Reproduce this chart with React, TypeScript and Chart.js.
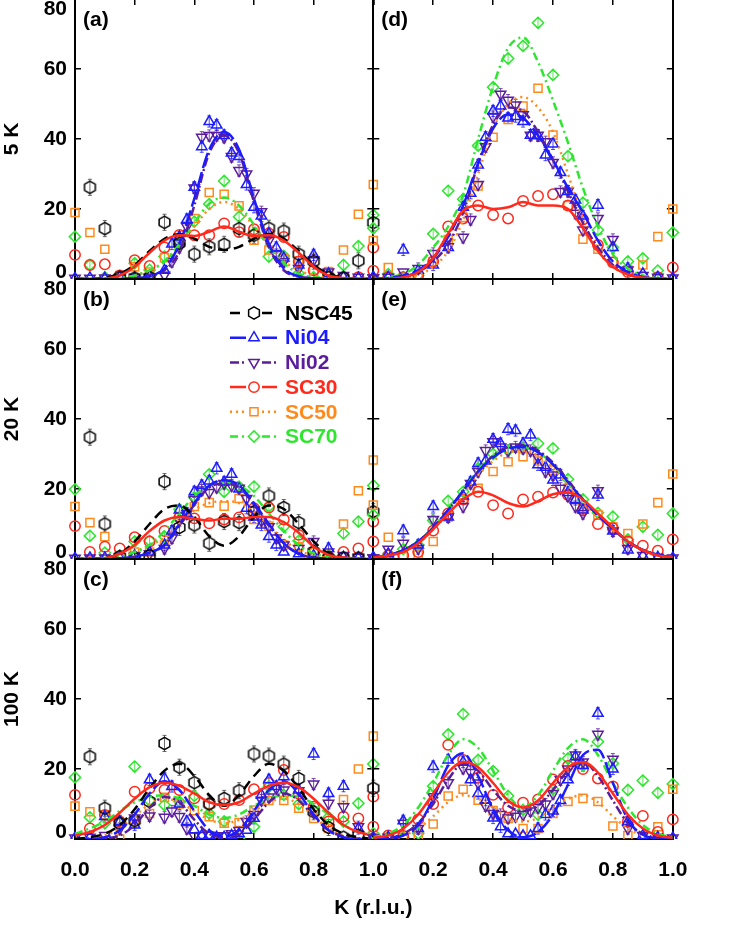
import React, { useEffect, useRef } from 'react';
import { Chart, registerables } from 'chart.js';

Chart.register(...registerables);

// ---------------- data ----------------
const K_COARSE = [0, 0.05, 0.1, 0.15, 0.2, 0.25, 0.3, 0.35, 0.4, 0.45, 0.5, 0.55, 0.6, 0.65, 0.7, 0.75, 0.8, 0.85, 0.9, 0.95, 1.0];
const K_NI = [0, 0.05, 0.1, 0.15, 0.2, 0.25, 0.3, 0.325, 0.35, 0.375, 0.4, 0.425, 0.45, 0.475, 0.5, 0.525, 0.55, 0.575, 0.6, 0.625, 0.65, 0.675, 0.7, 0.75, 0.8, 0.85, 0.9, 0.95, 1.0];
const X_TICKS = [0, 0.2, 0.4, 0.6, 0.8, 1.0];
const Y_TICKS = [0, 20, 40, 60, 80];
const SERIES_NAMES = ['NSC45', 'Ni04', 'Ni02', 'SC30', 'SC50', 'SC70'];
const ROW_TITLES = ['5 K', '20 K', '100 K'];
const PANEL_LABELS = ['(a)', '(b)', '(c)', '(d)', '(e)', '(f)'];
const X_TITLE = 'K (r.l.u.)';

// panel (a) 5 K
const NSC45_A = [null, 26.2, 14.4, 0.5, 0.3, 0.5, 16.2, 10.2, 7.1, 9.2, 9.9, 14.4, 12.5, 14.5, 13.7, 7.1, 5.1, 0.5, 0.3, 5.2, 16.1];
const NI04_A = [0.2, 0.3, 0.2, 0.5, 0.3, 0.8, 2.5, 10, 12, 17, 26.2, 37.8, 45, 44, 41, 36, 35, 27, 20.5, 18, 13, 9, 6, 4, 6.9, 1.5, 0.5, 0.3, 0.5];
const NI02_A = [0.2, 0.2, 0.3, 0.2, 0.5, 0.5, 1.1, 5, 9, 15, 26, 40.5, 41, 41, 40.5, 35, 31, 30, 24.5, 19.2, 11, 7, 5, 3, 5.4, 2, 1, 0.5, 0.3];
const SC30_A = [6.9, 4, 4.2, 1, 5.4, 3.7, 9, 12.6, 12.5, 12.5, 15.9, 13.4, 14.2, 13, 12, 5, 2.5, 0.5, 0.5, 0.5, 9];
const SC50_A = [19, 13.3, 8.5, 1, 3.5, 2, 6.1, 11, 17.3, 24.7, 24.2, 20.9, 11.1, 8.3, 5.9, 5.1, 2.6, 2.1, 8.3, 18.5, 27];
const SC70_A = [12.1, 4, 0.5, 0.5, 4.5, 2.6, 6.4, 10, 16.4, 21.4, 28, 17.8, 13, 6.4, 6.6, 1.6, 0.5, 1.3, 4, 9.4, 18.3];
const FIT_NSC45_A = [0, 0, 0.3, 1.5, 4, 8, 11.5, 12.8, 11.5, 9.2, 8.3, 9.2, 11.5, 12.8, 11.5, 8, 4, 1.5, 0.3, 0, 0];
const FIT_NI04_A = [0, 0, 0, 0, 0.2, 0.8, 3, 10, 23, 37, 42, 37, 23, 10, 3, 0.8, 0.2, 0, 0, 0, 0];
const FIT_NI02_A = [0, 0, 0, 0, 0.2, 0.7, 2.5, 8, 21, 36, 41, 36, 22, 9, 2.5, 0.7, 0.2, 0, 0, 0, 0];
const FIT_SC30_A = [0, 0, 0.1, 1, 3.5, 7.5, 11, 12.5, 12.3, 13.5, 15, 13.5, 12.3, 12.5, 11, 7.5, 3.5, 1, 0.3, 0.1, 0];
const FIT_SC50_A = [0, 0, 0, 0.3, 1, 2.5, 5, 9.5, 15, 20, 22, 20, 15, 9.5, 5, 2.5, 1, 0.3, 0, 0, 0];
const FIT_SC70_A = [0, 0, 0, 0.3, 1, 2.5, 5, 10, 16, 21.5, 23.3, 21, 15.5, 9, 4.5, 1.5, 0.5, 0.2, 0, 0, 0];

// panel (b) 20 K
const NSC45_B = [null, 34.8, 10, 0.7, 0.3, 1, 22.1, 9, 9.7, 4.5, 10.7, 10.4, 13.5, 18, 14.7, 10.4, 2.1, 0.3, 0.3, 0.3, 13.5];
const NI04_B = [0.2, 0.3, 0.3, 0.5, 1, 2, 4, 8, 14, 13, 19.2, 21, 22.3, 25.9, 22, 24.2, 20, 14.5, 12, 9.7, 6.4, 4, 2, 1.5, 1, 3, 0.5, 0.3, 0.3];
const NI02_B = [0.2, 0.3, 0.3, 0.5, 1, 1.5, 3, 6, 11, 13, 17, 19.7, 19, 20.5, 21.6, 21, 20.2, 17.3, 14, 11, 9.2, 6, 4, 3, 5, 2, 1, 0.5, 0.3];
const SC30_B = [9.4, 2, 3.5, 3, 6.2, 5, 8, 11.9, 11.6, 10.2, 11.3, 11.9, 14.5, 14.7, 11.3, 6.9, 2, 0.5, 2, 3, 10.7];
const SC50_B = [15, 10.4, 6.4, 1, 2, 2, 4, 12, 15, 16.1, 15.1, 17.3, 11.3, 9.4, 4, 3.5, 2, 1, 10, 19.5, 28.3];
const SC70_B = [19.9, 6.6, 1.8, 1, 5, 5.2, 6.4, 14.2, 17.6, 24.2, 19.2, 20.7, 20.7, 15, 9.2, 5.2, 2, 1, 7.3, 10.7, 21];
const FIT_NSC45_B = [0, 0, 0.3, 1.5, 5, 10, 14.3, 15.3, 12, 6.5, 3.8, 6.5, 12, 15.3, 14.3, 10, 5, 1.5, 0.3, 0, 0];
const FIT_NI04_B = [0, 0, 0, 0.2, 0.6, 1.8, 4, 10, 16, 21, 22.5, 21, 16, 10, 4.5, 1.5, 0.4, 0.1, 0, 0, 0];
const FIT_NI02_B = [0, 0, 0, 0.2, 0.6, 1.8, 4, 9.5, 15.5, 20.5, 21.5, 20.5, 15.5, 9.5, 4.5, 1.5, 0.4, 0.1, 0, 0, 0];
const FIT_SC30_B = [0, 0, 0.2, 1.5, 4, 8, 11, 12, 11.5, 11, 11.5, 11.5, 12, 12, 10.5, 7.5, 3.5, 1.2, 0.4, 0.1, 0];
const FIT_SC50_B = [0, 0, 0.2, 0.8, 2, 4, 6, 10, 14, 16, 16.5, 16, 13.5, 9.5, 5.5, 2.5, 1, 0.3, 0, 0, 0];
const FIT_SC70_B = [0, 0, 0.2, 0.6, 2, 4, 8, 13, 18, 21, 22, 21, 18, 13, 8, 4, 1.6, 0.5, 0.1, 0, 0];

// panel (c) 100 K
const NSC45_C = [null, 23.5, 8.8, 4.5, 5.2, 10.7, 27.3, 20.5, 16.1, 10, 11.6, 13.8, 24.3, 23.7, 21.4, 17.3, 7.8, 3.3, 0.5, 1.1, 14.5];
const NI04_C = [0.3, 0.5, 6.4, 5, 4, 16.9, 17.3, 15, 10, 5, 2.6, 1, 1, 0.5, 0.5, 1, 1.5, 2.5, 5.9, 12.6, 16.9, 15, 17.8, 14, 24.3, 13, 15.1, 3, 0.5];
const NI02_C = [0.3, 0.5, 1, 3, 6, 6.6, 6.2, 8, 6.4, 3, 0.9, 1, 1.1, 0.9, 0.9, 1.5, 2.4, 5, 7, 11.1, 12, 14.5, 14, 13.8, 15.7, 10.2, 9.2, 3.5, 0.5];
const SC30_C = [12.6, 3, 6.9, 5, 13.5, 14.5, 14, 14, 11.6, 10, 10, 11.1, 14.2, 16, 19.7, 13, 9.2, 5, 6.4, 5.9, 12.1];
const SC50_C = [9.4, 7.8, 6.9, 0, 5, 7.3, 11.9, 10, 8.1, 6.4, 4.5, 4.7, 8.3, 11, 11, 8.8, 5.9, 3, 11.3, 20, 29.4];
const SC70_C = [17.6, 6.2, 4.5, 5, 20.7, 11, 9.7, 10.7, 12.3, 7.3, 5, 0, 3.5, 15, 12.6, 10, 8, 6.2, 5, 10.2, 21.4];
const FIT_NSC45_C = [0, 0.5, 1.5, 4, 8.5, 14.5, 19.5, 21.5, 18, 12.5, 9.5, 12.5, 18, 21.5, 19.5, 14.5, 8.5, 4, 1.5, 0.5, 0];
const FIT_NI04_C = [0, 0, 0.5, 2.5, 7, 13, 16.5, 14, 8, 2.5, 0.8, 2.5, 8, 14, 16.5, 13, 7, 2.5, 0.5, 0, 0];
const FIT_NI02_C = [0, 0, 0.2, 1, 4, 9, 12, 10.5, 5.5, 1.5, 0.5, 1.5, 5.5, 10.5, 13, 11, 6.5, 2.5, 0.7, 0.1, 0];
const FIT_SC30_C = [1, 2, 4, 7.5, 11.5, 14.8, 16.1, 15.2, 13, 10.5, 9.7, 10.5, 13, 15.2, 16.1, 14.8, 11.5, 7.5, 4, 2, 1];
const FIT_SC50_C = [0, 0.3, 1, 3, 6.5, 10, 11.5, 10.5, 8, 5.5, 4.5, 5.5, 8, 10.5, 11.5, 10, 6.5, 3, 1, 0.3, 0];
const FIT_SC70_C = [1.5, 3, 5, 8, 10.5, 12, 12.5, 11.5, 9.5, 7, 6, 7, 9.5, 11.5, 12.5, 12, 10, 7, 4, 2, 1];

// panel (d) 5 K
const NI04_D = [0.5, 0.5, 8.3, 2.5, 4, 9, 20.5, 24.5, 32.6, 40.5, 48, 49.4, 46, 46.4, 45, 41.1, 40.9, 35.4, 38.6, 30.4, 25, 22.6, 18, 21.1, 9, 3, 1.5, 0.5, 0.3];
const NI02_D = [0.3, 0.5, 2, 3, 7.3, 9.2, 11.9, 17, 27, 37.8, 46.4, 52.8, 51.1, 49.7, 46.9, 41.1, 41.1, 39.2, 33.3, 25, 25.1, 18.8, 14, 17.3, 11.3, 2.6, 1, 0.5, 0.3];
const SC30_D = [2.4, 0.5, 0.5, 1, 5, 15, 17.3, 21, 18.3, 17.3, 22.3, 23.7, 24.2, 21, 17, 9.7, 4.7, 2, 0.5, 0.5, 3.3];
const SC50_D = [11, 3.3, 0.5, 1, 5, 11.3, 17.6, 26.6, 40.5, 45.6, 49.4, 54.5, 41.1, 21, 11.4, 8.5, 5, 2.6, 4, 12.1, 20];
const SC70_D = [14.5, 1.4, 0.5, 1.1, 12.9, 25.2, 22.8, 38.1, 54.8, 63, 66.6, 73.2, 58.3, 35.1, 21.8, 14, 9, 5, 5.9, 2.4, 13.3];
const FIT_NI04_D = [0, 0.3, 1, 2.5, 6, 12, 21, 33, 43, 47, 46, 41, 34, 26, 19, 11, 5, 2, 0.6, 0.1, 0];
const FIT_NI02_D = [0, 0.2, 0.7, 2, 5, 10, 19, 33, 44, 49, 48, 42, 34, 25, 16, 9, 4, 1.5, 0.5, 0.1, 0];
const FIT_SC30_D = [0, 0.1, 0.5, 2, 6, 13, 19.5, 21, 20, 20.5, 22, 21, 21, 20, 14.5, 8, 3.5, 1.3, 0.4, 0.1, 0];
const FIT_SC50_D = [0, 0.1, 0.4, 1.2, 3.5, 8, 17, 30, 43, 50, 52, 49, 42, 30, 17, 8, 3.5, 1.2, 0.3, 0, 0];
const FIT_SC70_D = [0, 0.5, 1.5, 4, 9, 15, 24, 40, 55, 66, 69, 62, 51, 39, 26, 15, 7, 3, 1, 0.3, 0];

// panel (e) 20 K
const NI04_E = [0.5, 1.5, 8.1, 4, 15, 12, 18, 22, 27.3, 28, 34.2, 33, 37.1, 36.7, 33, 35.4, 26.9, 26.2, 22.6, 24, 19, 17, 14, 18.3, 8, 2.6, 1, 0.5, 0.3];
const NI02_E = [0.3, 2.8, 4.5, 3, 11.3, 12, 15, 21.6, 25, 31, 33.5, 32, 31, 32, 31.6, 31, 29, 25, 24, 20.2, 18, 15, 13, 19.5, 8, 3, 1, 0.5, 0.3];
const SC30_E = [5, 1, 1, 2, 8.1, 13, 17, 19.2, 15.4, 13, 17, 17.8, 19, 18.3, 14, 10, 8.8, 5, 3.8, 2.4, 5.6];
const SC50_E = [15.4, 6.2, 1, 1.1, 5, 12, 17, 20.2, 25, 27.8, 29.2, 28, 25.4, 20.2, 14.5, 12.6, 9.2, 7.3, 10, 16.1, 24.3];
const SC70_E = [12.6, 1.4, 2.8, 4, 11, 16.6, 19.2, 25.9, 30, 31, 31.6, 33, 31.6, 22.8, 17, 13.2, 12.1, 5.6, 9.2, 6.9, 13];
const FIT_NI04_E = [0.4, 1, 2.5, 5, 9, 14, 19.5, 25, 29, 31.5, 32, 30.5, 27, 22, 17, 12.5, 8.8, 5, 2.6, 1.2, 0.5];
const FIT_NI02_E = [0.4, 1, 2.5, 5, 9, 14, 19.5, 25, 29.5, 32, 32.5, 31, 27.5, 22.5, 17, 12.5, 8.5, 5, 2.6, 1.2, 0.5];
const FIT_SC30_E = [0.4, 1, 2, 4.5, 8.5, 13, 17, 19.2, 18.2, 16, 15, 16.5, 18.5, 19, 17, 13, 9, 5, 2.5, 1, 0.4];
const FIT_SC50_E = [0.4, 1, 2.3, 4.5, 8.5, 13, 18.5, 24, 28, 30.5, 31, 29.5, 26, 21, 16, 12, 8.5, 5, 2.6, 1.2, 0.5];
const FIT_SC70_E = [0.4, 1, 2.5, 5, 9, 14, 19.5, 25.5, 29.5, 32, 32, 30.5, 27, 22, 17, 12.5, 8.8, 5, 2.6, 1.2, 0.5];

// panel (f) 100 K
const NI04_F = [0.3, 0.5, 5.2, 3, 20.7, 22.6, 22, 16.9, 13, 11.1, 6, 3.5, 1.5, 1.4, 0.9, 0.9, 3, 7, 8, 11, 16.9, 23.5, 21, 35.9, 20, 5, 1, 0.5, 0.3];
const NI02_F = [0.3, 0.5, 4.5, 3, 12.1, 16.1, 20.2, 19, 16, 9.5, 7.3, 7, 6, 6.5, 7, 8, 9, 10, 13, 16.9, 20, 24, 22, 29.9, 22.8, 3, 1, 0.5, 0.3];
const SC30_F = [3.5, 1, 0.9, 5.6, 10, 26.9, 22.6, 17.5, 12.6, 9, 10.4, 11.3, 17, 20.9, 20, 17.3, 15, 5, 6.6, 2, 5.6];
const SC50_F = [1, 0.5, 0.5, 0.5, 4.3, 12.3, 14.2, 11.1, 8.1, 5.9, 3, 3, 7.3, 10.7, 11.6, 10.7, 3.7, 1, 0.5, 3.5, 14.2];
const SC70_F = [1.6, 0.5, 0.5, 1.6, 15.1, 29.9, 35.7, 22.6, 19.4, 12.3, 8.3, 6.9, 14.2, 23, 20.9, 27.8, 21.6, 14, 16.7, 13.2, 15.7];
const FIT_NI04_F = [0, 0.2, 1, 4, 11.5, 21, 24.5, 18, 8.5, 2.5, 0.5, 2, 7, 15.5, 24, 25.5, 16, 5.5, 1.2, 0.2, 0];
const FIT_NI02_F = [0, 0.2, 1.5, 4.5, 10, 17, 21.5, 19.5, 14, 9.5, 8, 9.5, 14, 19.5, 22, 18, 11, 4.5, 1.5, 0.3, 0];
const FIT_SC30_F = [0.3, 1, 3, 7, 13, 19, 22, 20.5, 16, 11, 9, 11, 16, 20.5, 22, 19, 13, 7, 3, 1, 0.3];
const FIT_SC50_F = [0, 0.2, 1, 3, 6.5, 10.5, 12.5, 11.5, 9, 6, 5, 6, 9, 11.5, 12.5, 10.5, 6.5, 3, 1, 0.3, 0];
const FIT_SC70_F = [0.5, 1.5, 4, 9, 16, 24, 28.5, 26, 19.5, 12.5, 9, 12.5, 19.5, 26, 28.5, 24, 16, 9, 4, 1.5, 0.5];

// ---------------- styles & layout ----------------
const FONT = '"Liberation Sans", Arial, Helvetica, sans-serif';
const STYLE: any = {
  NSC45: { color: '#000000', dash: [10, 6], shape: 'hexagon', r: 6.2, rot: 0, err: 2.3, errColor: '#444444', k: 'coarse' },
  Ni04: { color: '#1c1cff', dash: [16, 4], shape: 'triangle', r: 6, rot: 0, err: 1.6, errColor: '#1c1cff', k: 'ni' },
  Ni02: { color: '#5a1e9c', dash: [9, 3, 2, 3], shape: 'triangle', r: 6, rot: 180, err: 1.6, errColor: '#5a1e9c', k: 'ni' },
  SC30: { color: '#ff2a1c', dash: [], shape: 'circle', r: 5.2, rot: 0, err: 0, errColor: '#ff2a1c', k: 'coarse' },
  SC50: { color: '#ff8a1c', dash: [2, 4], shape: 'rect', r: 5.7, rot: 0, err: 0, errColor: '#ff8a1c', k: 'coarse' },
  SC70: { color: '#2ee62e', dash: [8, 4, 2, 4], shape: 'rectRot', r: 5.6, rot: 0, err: 1.2, errColor: '#2ee62e', k: 'coarse' },
};
const PAGE_W = 747;
const CAN_H = 1014;
const OFF = 40;
const COLS = [{ left: 75, right: 373.3 }, { left: 373.3, right: 672.8 }];
const ROWS = [{ top: -1, bottom: 279 }, { top: 279, bottom: 559 }, { top: 559, bottom: 839 }];

const PANELS: any[] = [
  { col: 0, row: 0, pts: { NSC45: NSC45_A, Ni04: NI04_A, Ni02: NI02_A, SC30: SC30_A, SC50: SC50_A, SC70: SC70_A }, fits: { NSC45: FIT_NSC45_A, Ni04: FIT_NI04_A, Ni02: FIT_NI02_A, SC30: FIT_SC30_A, SC50: FIT_SC50_A, SC70: FIT_SC70_A } },
  { col: 0, row: 1, pts: { NSC45: NSC45_B, Ni04: NI04_B, Ni02: NI02_B, SC30: SC30_B, SC50: SC50_B, SC70: SC70_B }, fits: { NSC45: FIT_NSC45_B, Ni04: FIT_NI04_B, Ni02: FIT_NI02_B, SC30: FIT_SC30_B, SC50: FIT_SC50_B, SC70: FIT_SC70_B } },
  { col: 0, row: 2, pts: { NSC45: NSC45_C, Ni04: NI04_C, Ni02: NI02_C, SC30: SC30_C, SC50: SC50_C, SC70: SC70_C }, fits: { NSC45: FIT_NSC45_C, Ni04: FIT_NI04_C, Ni02: FIT_NI02_C, SC30: FIT_SC30_C, SC50: FIT_SC50_C, SC70: FIT_SC70_C } },
  { col: 1, row: 0, pts: { Ni04: NI04_D, Ni02: NI02_D, SC30: SC30_D, SC50: SC50_D, SC70: SC70_D }, fits: { Ni04: FIT_NI04_D, Ni02: FIT_NI02_D, SC30: FIT_SC30_D, SC50: FIT_SC50_D, SC70: FIT_SC70_D } },
  { col: 1, row: 1, pts: { Ni04: NI04_E, Ni02: NI02_E, SC30: SC30_E, SC50: SC50_E, SC70: SC70_E }, fits: { Ni04: FIT_NI04_E, Ni02: FIT_NI02_E, SC30: FIT_SC30_E, SC50: FIT_SC50_E, SC70: FIT_SC70_E } },
  { col: 1, row: 2, pts: { Ni04: NI04_F, Ni02: NI02_F, SC30: SC30_F, SC50: SC50_F, SC70: SC70_F }, fits: { Ni04: FIT_NI04_F, Ni02: FIT_NI02_F, SC30: FIT_SC30_F, SC50: FIT_SC50_F, SC70: FIT_SC70_F } },
];

function shapePath(ctx: CanvasRenderingContext2D, shape: string, x: number, y: number, r: number, rot: number) {
  ctx.beginPath();
  if (shape === 'circle') {
    ctx.arc(x, y, r, 0, Math.PI * 2);
  } else if (shape === 'rect') {
    const s = r * Math.SQRT1_2;
    ctx.rect(x - s, y - s, 2 * s, 2 * s);
  } else if (shape === 'rectRot') {
    ctx.moveTo(x - r, y); ctx.lineTo(x, y - r); ctx.lineTo(x + r, y); ctx.lineTo(x, y + r); ctx.closePath();
  } else if (shape === 'triangle') {
    let a = (rot * Math.PI) / 180;
    for (let i = 0; i < 3; i++) {
      const px = x + Math.sin(a) * r, py = y - Math.cos(a) * r;
      if (i === 0) ctx.moveTo(px, py); else ctx.lineTo(px, py);
      a += (2 * Math.PI) / 3;
    }
    ctx.closePath();
  } else if (shape === 'hexagon') {
    for (let i = 0; i < 6; i++) {
      const a = -Math.PI / 2 + (i * Math.PI) / 3;
      const px = x + Math.cos(a) * r, py = y + Math.sin(a) * r;
      if (i === 0) ctx.moveTo(px, py); else ctx.lineTo(px, py);
    }
    ctx.closePath();
  }
}

function makeHexagon(color: string, r: number) {
  const c = document.createElement('canvas');
  const size = Math.ceil(2 * r + 4);
  c.width = size; c.height = size;
  const ctx = c.getContext('2d')!;
  ctx.strokeStyle = color; ctx.lineWidth = 1.5;
  shapePath(ctx, 'hexagon', size / 2, size / 2, r, 0);
  ctx.stroke();
  return c;
}

const errorBarPlugin = {
  id: 'errorBars',
  beforeDatasetsDraw(chart: any) {
    const { ctx, chartArea } = chart;
    ctx.save();
    ctx.beginPath();
    ctx.rect(chartArea.left - 12, chartArea.top - 12, chartArea.right - chartArea.left + 24, chartArea.bottom - chartArea.top + 12);
    ctx.clip();
    chart.data.datasets.forEach((ds: any, i: number) => {
      if (!ds.errorBar) return;
      const meta = chart.getDatasetMeta(i);
      const ys = chart.scales[meta.yAxisID];
      ds.data.forEach((d: any, j: number) => {
        if (d.y === null || d.y === undefined || d.y < 3) return;
        const el = meta.data[j];
        if (!el) return;
        const x = el.x;
        const y1 = ys.getPixelForValue(d.y + ds.errorBar);
        const y2 = ys.getPixelForValue(d.y - ds.errorBar);
        ctx.strokeStyle = ds.errColor;
        ctx.lineWidth = 0.8;
        ctx.beginPath();
        ctx.moveTo(x, y1); ctx.lineTo(x, y2);
        ctx.moveTo(x - 2, y1); ctx.lineTo(x + 2, y1);
        ctx.moveTo(x - 2, y2); ctx.lineTo(x + 2, y2);
        ctx.stroke();
      });
    });
    ctx.restore();
  },
};

function panelLabelPlugin(text: string) {
  return {
    id: 'panelLabel',
    afterDraw(chart: any) {
      const { ctx, chartArea } = chart;
      ctx.save();
      ctx.font = `bold 21px ${FONT}`;
      ctx.fillStyle = '#000';
      ctx.textAlign = 'left';
      ctx.textBaseline = 'middle';
      ctx.fillText(text, chartArea.left + 8, chartArea.top + 21);
      ctx.restore();
    },
  };
}

const legendPlugin = {
  id: 'customLegend',
  afterDraw(chart: any) {
    const { ctx, chartArea } = chart;
    ctx.save();
    SERIES_NAMES.forEach((name, i) => {
      const st = STYLE[name];
      const y = chartArea.top + 34 + i * 24.7;
      const x0 = chartArea.left + 155, xm = chartArea.left + 179, x1 = chartArea.left + 202;
      ctx.strokeStyle = st.color;
      ctx.lineWidth = 2.5;
      ctx.setLineDash(st.dash);
      ctx.beginPath();
      ctx.moveTo(x0, y); ctx.lineTo(xm - 8, y);
      ctx.moveTo(xm + 8, y); ctx.lineTo(x1, y);
      ctx.stroke();
      ctx.setLineDash([]);
      ctx.lineWidth = 1.5;
      shapePath(ctx, st.shape, xm, y, st.r, st.rot);
      ctx.stroke();
      ctx.font = `bold 21px ${FONT}`;
      ctx.fillStyle = st.color;
      ctx.textAlign = 'left';
      ctx.textBaseline = 'middle';
      ctx.fillText(name, chartArea.left + 210, y + 1);
    });
    ctx.restore();
  },
};

const xTitlePlugin = {
  id: 'xTitle',
  afterDraw(chart: any) {
    const { ctx, chartArea } = chart;
    ctx.save();
    ctx.font = `bold 21px ${FONT}`;
    ctx.fillStyle = '#000';
    ctx.textAlign = 'center';
    ctx.textBaseline = 'middle';
    ctx.fillText(X_TITLE, chartArea.right, chartArea.bottom + 69);
    ctx.restore();
  },
};

function buildConfig(p: any, hex: HTMLCanvasElement) {
  const showX = p.row === 2;
  const showY = p.col === 0;
  const col = COLS[p.col];
  const row = ROWS[p.row];
  const WL = showY ? 75 : 0;
  const HB = showX ? 60 : 0;

  const datasets: any[] = [];
  const fitOrder = ['SC30', 'NSC45', 'Ni04', 'Ni02', 'SC70', 'SC50'];
  fitOrder.forEach((name) => {
    const f = p.fits[name];
    if (!f) return;
    const st = STYLE[name];
    datasets.push({
      label: name + ' fit',
      data: K_COARSE.map((k, i) => ({ x: k, y: f[i] })),
      showLine: true,
      borderColor: st.color,
      borderWidth: 2.5,
      borderDash: st.dash,
      pointRadius: 0,
      pointHoverRadius: 0,
      cubicInterpolationMode: 'monotone',
      fill: false,
    });
  });
  SERIES_NAMES.forEach((name) => {
    const v = p.pts[name];
    if (!v) return;
    const st = STYLE[name];
    const ks = st.k === 'ni' ? K_NI : K_COARSE;
    datasets.push({
      label: name,
      data: ks.map((k, i) => ({ x: k, y: v[i] })),
      showLine: false,
      pointStyle: st.shape === 'hexagon' ? hex : st.shape,
      pointRotation: st.rot,
      pointRadius: st.r,
      pointHoverRadius: st.r,
      pointBorderWidth: 1.5,
      pointBorderColor: st.color,
      pointBackgroundColor: 'rgba(0,0,0,0)',
      clip: { left: 12, right: 12, top: 12, bottom: 0 },
      errorBar: st.err,
      errColor: st.errColor,
    });
  });

  const grid = { drawOnChartArea: false, drawTicks: true, tickLength: -6, color: '#000', lineWidth: 1.5 };
  const border = { display: true, color: '#000', width: 2 };
  const tickFont = { family: FONT, size: 21, weight: 'bold' };

  const plugins: any[] = [errorBarPlugin, panelLabelPlugin(PANEL_LABELS[p.col * 3 + p.row])];
  if (p.col === 0 && p.row === 1) plugins.push(legendPlugin);
  if (p.col === 0 && p.row === 2) plugins.push(xTitlePlugin);

  return {
    type: 'scatter',
    data: { datasets },
    options: {
      responsive: false,
      animation: false,
      devicePixelRatio: 1,
      events: [],
      layout: {
        padding: {
          left: col.left - WL,
          right: PAGE_W - col.right,
          top: row.top + OFF,
          bottom: CAN_H - (row.bottom + OFF) - HB,
        },
      },
      plugins: { legend: { display: false }, tooltip: { enabled: false } },
      scales: {
        x: {
          type: 'linear', position: 'bottom', min: 0, max: 1,
          afterBuildTicks: (s: any) => { s.ticks = X_TICKS.map((v) => ({ value: v })); },
          ticks: {
            display: showX, autoSkip: false, maxRotation: 0, padding: 25, color: '#000', font: tickFont,
            callback: (v: any) => (p.col === 1 && Number(v) === 0 ? '' : Number(v).toFixed(1)),
          },
          grid, border,
          afterFit: (s: any) => { s.height = HB; },
        },
        xTop: {
          type: 'linear', position: 'top', min: 0, max: 1,
          afterBuildTicks: (s: any) => { s.ticks = X_TICKS.map((v) => ({ value: v })); },
          ticks: { display: false },
          grid, border,
          afterFit: (s: any) => { s.height = 0; },
        },
        y: {
          type: 'linear', position: 'left', min: 0, max: 80,
          afterBuildTicks: (s: any) => { s.ticks = Y_TICKS.map((v) => ({ value: v })); },
          ticks: {
            display: showY, autoSkip: false, padding: 14, color: '#000',
            font: (c: any) => ({ family: FONT, size: 21, weight: 'bold', lineHeight: c.tick && c.tick.value === 0 ? 0.667 : 1 }),
            callback: (v: any) => (Number(v) === 80 ? ['', '80'] : Number(v) === 0 ? ['0', ''] : String(v)),
          },
          title: { display: showY, text: ROW_TITLES[p.row], color: '#000', padding: 0, font: { family: FONT, size: 21, weight: 'bold' } },
          grid, border,
          afterFit: (s: any) => { s.width = WL; },
        },
        yRight: {
          type: 'linear', position: 'right', min: 0, max: 80,
          afterBuildTicks: (s: any) => { s.ticks = Y_TICKS.map((v) => ({ value: v })); },
          ticks: { display: false },
          grid, border,
          afterFit: (s: any) => { s.width = 0; },
        },
      },
    },
    plugins,
  };
}

export default function App() {
  const refs = useRef<(HTMLCanvasElement | null)[]>([]);
  useEffect(() => {
    const hex = makeHexagon(STYLE.NSC45.color, STYLE.NSC45.r);
    const charts = PANELS.map((p, i) => new Chart(refs.current[i] as HTMLCanvasElement, buildConfig(p, hex) as any));
    return () => charts.forEach((c) => c.destroy());
  }, []);
  return (
    <div style={{ position: 'absolute', left: 0, top: 0, width: PAGE_W, height: 934, overflow: 'hidden', background: '#fff' }}>
      {PANELS.map((p, i) => (
        <canvas
          key={i}
          ref={(el) => { refs.current[i] = el; }}
          width={PAGE_W}
          height={CAN_H}
          style={{ position: 'absolute', left: 0, top: -OFF, width: PAGE_W, height: CAN_H }}
        />
      ))}
    </div>
  );
}
